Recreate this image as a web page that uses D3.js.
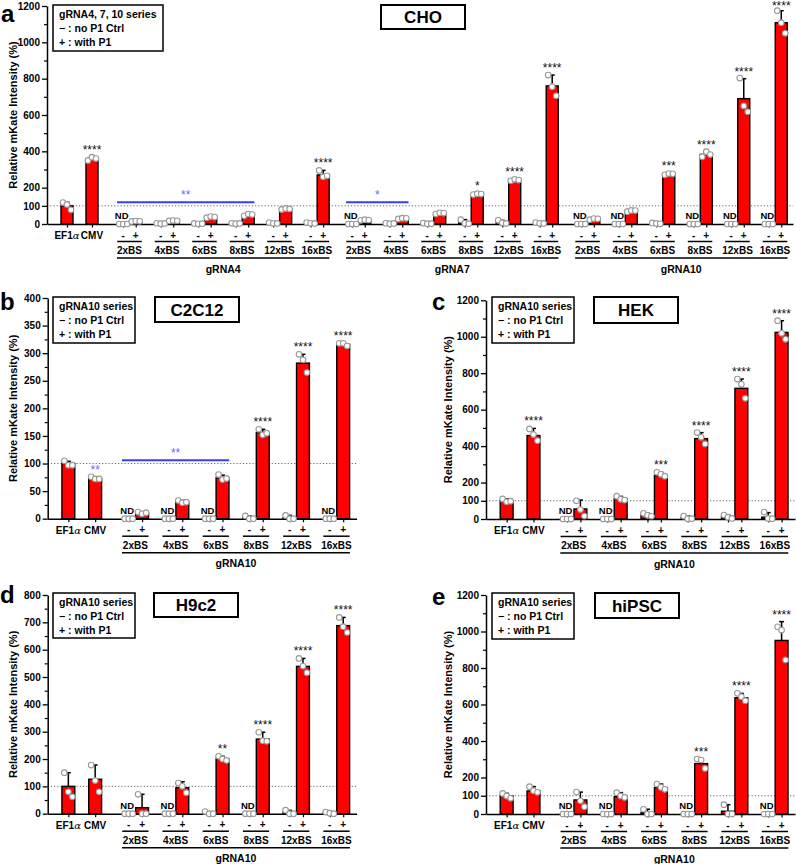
<!DOCTYPE html>
<html><head><meta charset="utf-8">
<script src="https://cdn.jsdelivr.net/npm/d3@7"></script>
<style>
body{margin:0;background:#fff}
svg{display:block}
text{font-family:"Liberation Sans",Arial,Helvetica,sans-serif}
</style>
</head><body>
<svg id="chart" width="796" height="864"></svg>
<script>
// ---------------- DATA ----------------
const controls = ["EF1α", "CMV"];
const bsLabels = ["2xBS", "4xBS", "6xBS", "8xBS", "12xBS", "16xBS"];
const choGroups = ["gRNA4", "gRNA7", "gRNA10"];
const singleGroup = ["gRNA10"];
const yAxisTitle = "Relative mKate Intensity (%)";

// a: CHO
const choCtrlMean = [100, 356];
const choCtrlErr = [120, 370];
const choCtrlPts = [[118, 108, 78], [350, 368, 360]];
const choCtrlStars = ["", "****"];
const choMinusMean = [0, 3, 2, 3, 5, 5, 0, 3, 3, 10, 10, 5, 0, 0, 3, 0, 0, 0];
const choMinusErr = [0, 4, 3, 4, 8, 8, 0, 4, 5, 24, 20, 8, 0, 0, 6, 0, 0, 0];
const choMinusPts = [[0,0,0],[4,2,3],[3,1,2],[4,2,3],[8,4,3],[8,4,3],
  [0,0,0],[4,2,3],[5,2,2],[24,4,2],[20,7,3],[8,4,3],
  [0,0,0],[0,0,0],[6,3,1],[0,0,0],[0,0,0],[0,0,0]];
const choND = [1,0,0,0,0,0, 1,0,0,0,0,0, 1,1,0,1,1,1];
const choPlusMean = [15, 18, 38, 50, 83, 270, 22, 30, 59, 165, 242, 760, 28, 72, 275, 383, 690, 1108];
const choPlusErr = [17, 20, 42, 56, 88, 295, 25, 33, 62, 168, 248, 820, 30, 76, 279, 398, 800, 1174];
const choPlusPts = [[14,16,15],[17,19,18],[35,41,38],[45,55,52],[80,86,83],[295,260,265],
  [20,24,22],[28,32,31],[55,62,60],[162,167,165],[238,246,242],[820,756,706],
  [24,30,29],[68,75,74],[271,278,276],[370,398,382],[803,650,618],[1174,1108,1050]];
const choPlusStars = ["","","","","","****", "","","","*","****","****", "","","***","****","****","****"];
const choBlue = [{group: 0, from: 0, to: 3, value: 120, stars: "**"}, {group: 1, from: 0, to: 1, value: 120, stars: "*"}];
const choTicks = [0, 100, 200, 400, 600, 800, 1000, 1200];
const choMinor = [300, 500, 700, 900, 1100];

// b: C2C12
const c2CtrlMean = [100, 73];
const c2CtrlErr = [104, 76];
const c2CtrlPts = [[105, 97, 97], [76, 72, 72]];
const c2CtrlStars = ["", "**"];
const c2MinusMean = [0, 0, 0, 2, 2, 0];
const c2MinusErr = [0, 0, 0, 5, 6, 0];
const c2MinusPts = [[0,0,0],[0,0,0],[0,0,0],[5,0,0],[6,0,0],[0,0,0]];
const c2ND = [1, 1, 1, 0, 0, 1];
const c2PlusMean = [10, 30, 74, 156, 282, 316];
const c2PlusErr = [12, 33, 79, 162, 298, 319];
const c2PlusPts = [[12,9,11],[33,29,30],[80,71,73],[162,152,155],[298,288,265],[318,318,313]];
const c2PlusStars = ["", "", "", "****", "****", "****"];
const c2Blue = [{group: 0, from: 0, to: 2, value: 106, stars: "**"}];
const c2Ticks = [0, 50, 100, 150, 200, 250, 300, 350, 400];
const c2Minor = [25, 75, 125, 175, 225, 275, 325, 375];

// c: HEK
const hekCtrlMean = [100, 458];
const hekCtrlErr = [110, 497];
const hekCtrlPts = [[110, 94, 98], [494, 463, 430]];
const hekCtrlStars = ["", "****"];
const hekMinusMean = [0, 0, 22, 8, 12, 10];
const hekMinusErr = [0, 0, 31, 16, 22, 35];
const hekMinusPts = [[0,0,0],[0,0,0],[31,20,15],[16,2,2],[22,10,3],[38,3,2]];
const hekND = [1, 1, 0, 0, 0, 0];
const hekPlusMean = [55, 112, 238, 441, 717, 1024];
const hekPlusErr = [104, 124, 256, 474, 768, 1088];
const hekPlusPts = [[100,52,16],[125,108,104],[256,245,235],[474,448,412],[768,739,662],[1088,1019,986]];
const hekPlusStars = ["", "", "***", "****", "****", "****"];
const hekTicks = [0, 100, 200, 400, 600, 800, 1000, 1200];
const hekMinor = [300, 500, 700, 900, 1100];

// d: H9c2
const h9CtrlMean = [100, 126];
const h9CtrlErr = [150, 178];
const h9CtrlPts = [[150, 80, 62], [178, 121, 80]];
const h9CtrlStars = ["", ""];
const h9MinusMean = [0, 0, 3, 0, 5, 3];
const h9MinusErr = [0, 0, 6, 0, 12, 5];
const h9MinusPts = [[0,0,0],[0,0,0],[8,0,0],[0,0,0],[13,0,0],[6,2,0]];
const h9ND = [1, 1, 0, 1, 0, 0];
const h9PlusMean = [22, 95, 200, 273, 539, 688];
const h9PlusErr = [71, 117, 210, 298, 568, 718];
const h9PlusPts = [[71,0,0],[112,100,77],[210,200,195],[298,267,265],[568,540,516],[718,684,663]];
const h9PlusStars = ["", "", "**", "****", "****", "****"];
const h9Ticks = [0, 100, 200, 300, 400, 500, 600, 700, 800];
const h9Minor = [50, 150, 250, 350, 450, 550, 650, 750];

// e: hiPSC
const ipsCtrlMean = [99, 126];
const ipsCtrlErr = [113, 150];
const ipsCtrlPts = [[113, 98, 86], [150, 128, 119]];
const ipsCtrlStars = ["", ""];
const ipsMinusMean = [0, 0, 8, 0, 15, 0];
const ipsMinusErr = [0, 0, 26, 0, 51, 0];
const ipsMinusPts = [[0,0,0],[0,0,0],[26,0,0],[0,0,0],[51,0,0],[0,0,0]];
const ipsND = [1, 1, 0, 1, 0, 1];
const ipsPlusMean = [77, 95, 144, 276, 637, 951];
const ipsPlusErr = [120, 117, 164, 303, 661, 1054];
const ipsPlusPts = [[120,72,40],[117,99,91],[164,146,135],[301,296,250],[661,643,621],[1026,1008,844]];
const ipsPlusStars = ["", "", "", "***", "****", "****"];
const ipsTicks = [0, 100, 200, 400, 600, 800, 1000, 1200];
const ipsMinor = [300, 500, 700, 900, 1100];

// ---------------- LAYOUT / STYLE ----------------
const RED = "#ff0000";
const BLUE_LINE = "#3c3cff";
const BLUE_STAR = "#6a6aff";
const FONT = "'Liberation Sans', Arial, sans-serif";

const panels = [
  {letter: "a", lx: 1, ly: 22, title: "CHO", tBox: [381, 5, 84, 24], legTitle: "gRNA4, 7, 10 series", leg: [53, 5, 110, 46],
   xDom: [-1.6, 58.1], xRng: [47, 793], yMax: 1200, yRng: [224, 6], ticks: choTicks, minor: choMinor, yTitleX: 13,
   groups: choGroups, gap: 0.33, ctrlMean: choCtrlMean, ctrlErr: choCtrlErr, ctrlPts: choCtrlPts, ctrlStars: choCtrlStars, ctrlStarBlue: false,
   mMean: choMinusMean, mErr: choMinusErr, mPts: choMinusPts, nd: choND,
   pMean: choPlusMean, pErr: choPlusErr, pPts: choPlusPts, pStars: choPlusStars, blue: choBlue},
  {letter: "b", lx: 0, ly: 310, title: "C2C12", tBox: [155, 297, 84, 25], legTitle: "gRNA10 series", leg: [53, 297, 82, 46],
   xDom: [-1.54, 21.5], xRng: [47.7, 356.6], yMax: 400, yRng: [518.7, 298], ticks: c2Ticks, minor: c2Minor, yTitleX: 13,
   groups: singleGroup, gap: 0, ctrlMean: c2CtrlMean, ctrlErr: c2CtrlErr, ctrlPts: c2CtrlPts, ctrlStars: c2CtrlStars, ctrlStarBlue: true,
   mMean: c2MinusMean, mErr: c2MinusErr, mPts: c2MinusPts, nd: c2ND,
   pMean: c2PlusMean, pErr: c2PlusErr, pPts: c2PlusPts, pStars: c2PlusStars, blue: c2Blue},
  {letter: "c", lx: 432, ly: 310, title: "HEK", tBox: [594, 297, 84, 26], legTitle: "gRNA10 series", leg: [492, 297, 82, 46],
   xDom: [-1.54, 21.5], xRng: [486, 795], yMax: 1200, yRng: [519, 300.3], ticks: hekTicks, minor: hekMinor, yTitleX: 448,
   groups: singleGroup, gap: 0, ctrlMean: hekCtrlMean, ctrlErr: hekCtrlErr, ctrlPts: hekCtrlPts, ctrlStars: hekCtrlStars, ctrlStarBlue: false,
   mMean: hekMinusMean, mErr: hekMinusErr, mPts: hekMinusPts, nd: hekND,
   pMean: hekPlusMean, pErr: hekPlusErr, pPts: hekPlusPts, pStars: hekPlusStars, blue: []},
  {letter: "d", lx: 0, ly: 603, title: "H9c2", tBox: [154, 593, 84, 24], legTitle: "gRNA10 series", leg: [53, 593, 82, 45],
   xDom: [-1.54, 21.5], xRng: [47.7, 356.6], yMax: 800, yRng: [813.7, 595], ticks: h9Ticks, minor: h9Minor, yTitleX: 13,
   groups: singleGroup, gap: 0, ctrlMean: h9CtrlMean, ctrlErr: h9CtrlErr, ctrlPts: h9CtrlPts, ctrlStars: h9CtrlStars, ctrlStarBlue: false,
   mMean: h9MinusMean, mErr: h9MinusErr, mPts: h9MinusPts, nd: h9ND,
   pMean: h9PlusMean, pErr: h9PlusErr, pPts: h9PlusPts, pStars: h9PlusStars, blue: []},
  {letter: "e", lx: 432, ly: 605, title: "hiPSC", tBox: [595, 593, 84, 25], legTitle: "gRNA10 series", leg: [492, 593, 82, 46],
   xDom: [-1.54, 21.5], xRng: [486, 795], yMax: 1200, yRng: [814, 595], ticks: ipsTicks, minor: ipsMinor, yTitleX: 448,
   groups: singleGroup, gap: 0, ctrlMean: ipsCtrlMean, ctrlErr: ipsCtrlErr, ctrlPts: ipsCtrlPts, ctrlStars: ipsCtrlStars, ctrlStarBlue: false,
   mMean: ipsMinusMean, mErr: ipsMinusErr, mPts: ipsMinusPts, nd: ipsND,
   pMean: ipsPlusMean, pErr: ipsPlusErr, pPts: ipsPlusPts, pStars: ipsPlusStars, blue: []}
];

const svg = d3.select("#chart");
const jitter = [-4, 0, 4];

function drawPanel(P) {
  const g = svg.append("g");
  const x = d3.scaleLinear().domain(P.xDom).range(P.xRng);
  const y = d3.scaleLinear().domain([0, P.yMax]).range(P.yRng);
  const unit = x(1) - x(0);
  const bw = unit * 0.96;
  const yB = y(0);
  const span = 18 + P.gap;
  const slotM = (gi, p) => 4.5 + gi * span + p * 3;

  const bars = [];
  controls.forEach((c, i) => bars.push({slot: 2 * i, mean: P.ctrlMean[i], err: P.ctrlErr[i], pts: P.ctrlPts[i], stars: P.ctrlStars[i], blueStar: P.ctrlStarBlue, nd: 0}));
  P.groups.forEach((grp, gi) => {
    bsLabels.forEach((bs, p) => {
      const k = gi * 6 + p;
      bars.push({slot: slotM(gi, p), mean: P.mMean[k], err: P.mErr[k], pts: P.mPts[k], stars: "", nd: P.nd[k]});
      bars.push({slot: slotM(gi, p) + 1, mean: P.pMean[k], err: P.pErr[k], pts: P.pPts[k], stars: P.pStars[k], nd: 0});
    });
  });

  // reference dotted line at 100
  g.append("line").attr("x1", P.xRng[0]).attr("x2", P.xRng[1]).attr("y1", y(100)).attr("y2", y(100))
    .attr("stroke", "#666").attr("stroke-width", 1).attr("stroke-dasharray", "1.2,2");

  // bars
  g.selectAll("rect.bar").data(bars.filter(b => b.mean > 0)).join("rect")
    .attr("x", b => x(b.slot) - bw / 2).attr("width", bw)
    .attr("y", b => y(b.mean)).attr("height", b => yB - y(b.mean))
    .attr("fill", RED).attr("stroke", "#000").attr("stroke-width", 1.4);

  // error bars (upper only)
  const eb = bars.filter(b => b.err > b.mean);
  g.selectAll("line.err").data(eb).join("line")
    .attr("x1", b => x(b.slot)).attr("x2", b => x(b.slot))
    .attr("y1", b => y(b.mean)).attr("y2", b => y(b.err))
    .attr("stroke", "#000").attr("stroke-width", 1.5);
  g.selectAll("line.cap").data(eb).join("line")
    .attr("x1", b => x(b.slot) - 2.5).attr("x2", b => x(b.slot) + 2.5)
    .attr("y1", b => y(b.err)).attr("y2", b => y(b.err))
    .attr("stroke", "#000").attr("stroke-width", 1.5);

  // axes
  const yAx = g.append("g").attr("transform", `translate(${P.xRng[0]},0)`)
    .call(d3.axisLeft(y).tickValues(P.ticks).tickFormat(d3.format("d")).tickSize(5).tickSizeOuter(0).tickPadding(2));
  yAx.select(".domain").attr("stroke-width", 1.5);
  yAx.selectAll(".tick line").attr("stroke-width", 1.3);
  yAx.selectAll("text").attr("font-family", FONT).attr("font-size", 10).attr("font-weight", "bold").attr("fill", "#000");
  const yMin = g.append("g").attr("transform", `translate(${P.xRng[0]},0)`)
    .call(d3.axisLeft(y).tickValues(P.minor).tickSize(3).tickSizeOuter(0).tickFormat(""));
  yMin.select(".domain").remove();
  yMin.selectAll(".tick line").attr("stroke-width", 1.2);

  const xAx = g.append("g").attr("transform", `translate(0,${yB})`)
    .call(d3.axisBottom(x).tickValues(bars.map(b => b.slot)).tickSize(3.5).tickSizeOuter(0).tickFormat(""));
  xAx.select(".domain").attr("stroke-width", 1.5);
  xAx.selectAll(".tick line").attr("stroke-width", 1.2);

  // points
  const pts = [];
  bars.forEach(b => b.pts.forEach((v, j) => pts.push({px: x(b.slot) + jitter[j], v})));
  g.selectAll("circle.pt").data(pts).join("circle")
    .attr("cx", d => d.px).attr("cy", d => y(d.v)).attr("r", 2.8)
    .attr("fill", "#fff").attr("stroke", "#999").attr("stroke-width", 1.1);

  // stars
  g.selectAll("text.star").data(bars.filter(b => b.stars)).join("text")
    .attr("x", b => x(b.slot)).attr("y", b => Math.max(10, y(Math.max(b.err, b.mean)) - 3))
    .attr("text-anchor", "middle").attr("font-size", 12).attr("font-family", FONT)
    .attr("fill", b => b.blueStar ? BLUE_STAR : "#111").text(b => b.stars);

  // ND labels
  g.selectAll("text.nd").data(bars.filter(b => b.nd)).join("text")
    .attr("x", b => x(b.slot) - 1.5).attr("y", yB - 5)
    .attr("text-anchor", "middle").attr("font-size", 9.5).attr("font-weight", "bold").attr("font-family", FONT)
    .text("ND");

  // blue comparison lines
  P.blue.forEach(bl => {
    const x1 = x(slotM(bl.group, bl.from)) - unit * 0.5;
    const x2 = x(slotM(bl.group, bl.to) + 1) + unit * 0.5;
    g.append("line").attr("x1", x1).attr("x2", x2).attr("y1", y(bl.value)).attr("y2", y(bl.value))
      .attr("stroke", BLUE_LINE).attr("stroke-width", 2);
    g.append("text").attr("x", (x1 + x2) / 2).attr("y", y(bl.value) - 3).attr("text-anchor", "middle")
      .attr("font-size", 12).attr("font-family", FONT).attr("fill", BLUE_STAR).text(bl.stars);
  });

  // x labels
  const lab = (tx, ty, t, size, anchor) => g.append("text").attr("x", tx).attr("y", ty)
    .attr("text-anchor", anchor || "middle").attr("font-size", size).attr("font-weight", "bold")
    .attr("font-family", FONT).text(t);
  controls.forEach((c, i) => {
    const t = g.append("text").attr("x", x(2 * i)).attr("y", yB + 15).attr("text-anchor", "middle")
      .attr("font-size", 10).attr("font-weight", "bold").attr("font-family", FONT);
    if (c.includes("α")) {
      t.append("tspan").text(c.replace("α", ""));
      t.append("tspan").attr("font-weight", "normal").attr("font-family", "'DejaVu Serif', serif").attr("font-style", "italic").text("α");
    } else t.text(c);
  });
  P.groups.forEach((grp, gi) => {
    bsLabels.forEach((bs, p) => {
      const xm = x(slotM(gi, p)), xp = x(slotM(gi, p) + 1);
      lab(xm, yB + 14.5, "-", 10);
      lab(xp, yB + 14.5, "+", 10);
      g.append("line").attr("x1", xm - unit * 0.48).attr("x2", xp + unit * 0.48)
        .attr("y1", yB + 17.5).attr("y2", yB + 17.5).attr("stroke", "#000").attr("stroke-width", 1.5);
      lab((xm + xp) / 2, yB + 30, bs, 10);
    });
    const gx1 = x(slotM(gi, 0)) - unit * 0.5, gx2 = x(slotM(gi, 5) + 1) + unit * 0.5;
    g.append("line").attr("x1", gx1).attr("x2", gx2).attr("y1", yB + 34).attr("y2", yB + 34)
      .attr("stroke", "#000").attr("stroke-width", 1.5);
    lab((gx1 + gx2) / 2, yB + 48.5, grp, 10.5);
  });

  // y axis title
  const yc = (P.yRng[0] + P.yRng[1]) / 2;
  g.append("text").attr("transform", `translate(${P.yTitleX + 4},${yc}) rotate(-90)`)
    .attr("text-anchor", "middle").attr("font-size", 11).attr("font-weight", "bold").attr("font-family", FONT)
    .text(yAxisTitle);

  // legend box
  const [lx0, ly0, lw, lh] = P.leg;
  g.append("rect").attr("x", lx0).attr("y", ly0).attr("width", lw).attr("height", lh)
    .attr("fill", "#fff").attr("stroke", "#000").attr("stroke-width", 1.5);
  [P.legTitle, "\u2212 : no P1 Ctrl", "+ : with P1"].forEach((t, i) =>
    lab(lx0 + 6, ly0 + 13 + i * 14.2, t, 10.5, "start"));

  // title box
  const [tx0, ty0, tw, th] = P.tBox;
  g.append("rect").attr("x", tx0).attr("y", ty0).attr("width", tw).attr("height", th)
    .attr("fill", "#fff").attr("stroke", "#000").attr("stroke-width", 2);
  lab(tx0 + tw / 2, ty0 + th / 2 + 6, P.title, 17);

  // panel letter
  g.append("text").attr("x", P.lx).attr("y", P.ly).attr("font-size", 24).attr("font-weight", "bold")
    .attr("font-family", FONT).text(P.letter);
}

panels.forEach(drawPanel);
</script>
</body></html>
